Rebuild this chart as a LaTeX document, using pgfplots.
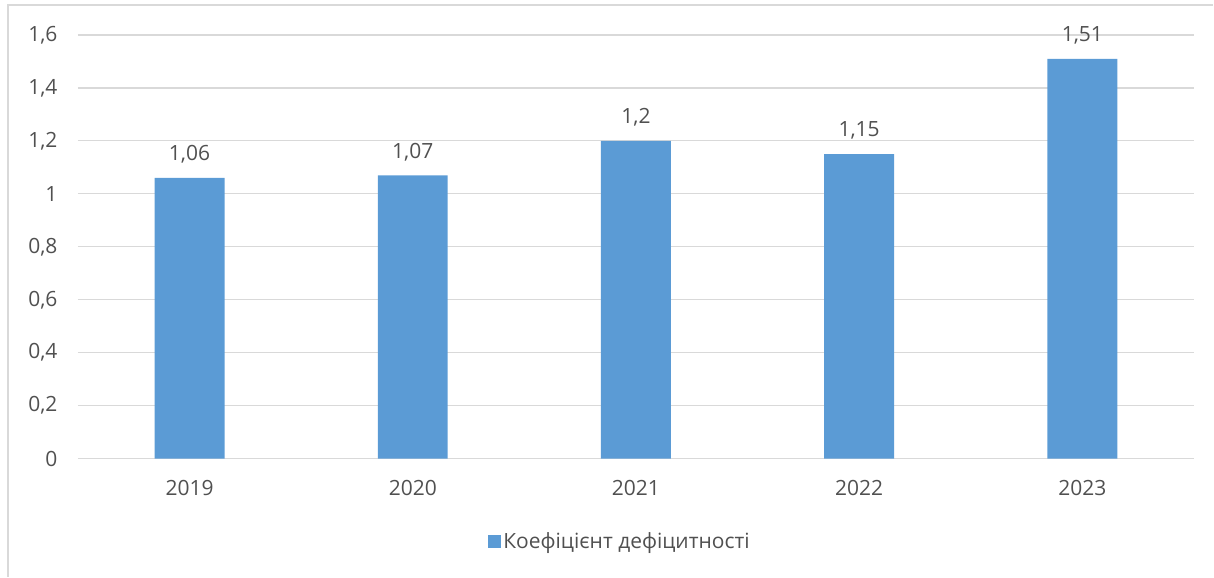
\documentclass[border=0pt]{standalone}
\usepackage{fontspec}
\setmainfont{Open Sans}
\usepackage{pgfplots}
\pgfplotsset{compat=1.18}
\definecolor{barblue}{HTML}{5B9BD5}
\definecolor{txtgray}{HTML}{505050}
\definecolor{gridgray}{HTML}{D9D9D9}
\begin{document}
\begin{tikzpicture}
\path (0,0) rectangle (1214pt,577pt);
\draw[gridgray, line width=2pt] (8pt,0pt) -- (8pt,572pt) -- (1214pt,572pt);
\begin{axis}[
  at={(78pt,118pt)}, anchor=south west,
  scale only axis, width=1117pt, height=424pt,
  xmin=-0.5, xmax=4.5, ymin=0, ymax=1.6,
  ytick={0,0.2,0.4,0.6,0.8,1,1.2,1.4,1.6},
  xtick={0,1,2,3,4},
  xticklabels={2019,2020,2021,2022,2023},
  major tick length=0pt,
  axis x line*=bottom, axis y line*=left,
  y axis line style={draw=none},
  x axis line style={-, draw=gridgray, line width=1.2pt},
  ymajorgrids, grid style={gridgray, line width=1.2pt},
  font=\fontsize{21}{25}\selectfont,
  tick label style={txtgray, font=\fontsize{21}{25}\selectfont},
  /pgf/number format/assume math mode=true,
  /pgf/number format/use comma,
  yticklabel style={/pgf/number format/fixed, xshift=-17pt},
  xticklabel style={yshift=-18pt},
  ybar, bar width=70pt,
  nodes near coords,
  nodes near coords style={txtgray, font=\fontsize{21}{25}\selectfont, yshift=11pt,
    /pgf/number format/fixed, /pgf/number format/precision=2, /pgf/number format/use comma, /pgf/number format/assume math mode=true},
  legend style={draw=none, fill=none, at={(0.4857,-0.196)}, anchor=center,
    font=\fontsize{21}{25}\selectfont, text=txtgray, inner sep=0pt},
  legend image code/.code={\fill[barblue] (0pt,-6.5pt) rectangle (13pt,6.5pt);},
]
\addplot[fill=barblue, draw=none] coordinates {(0,1.06) (1,1.07) (2,1.2) (3,1.15) (4,1.51)};
\addlegendentry{Коефіцієнт дефіцитності}
\end{axis}
\end{tikzpicture}
\end{document}
